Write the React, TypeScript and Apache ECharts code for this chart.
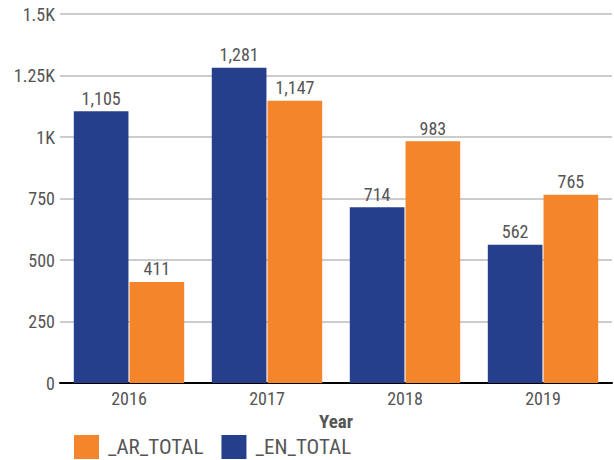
import React, { useEffect, useRef } from "react";
import * as echarts from "echarts";

const categories = ["2016", "2017", "2018", "2019"];
const enTotal = [1105, 1281, 714, 562];
const arTotal = [411, 1147, 983, 765];
const yTickLabels: Record<number, string> = { 0: "0", 250: "250", 500: "500", 750: "750", 1000: "1K", 1250: "1.25K", 1500: "1.5K" };

const FONT = "'Roboto Condensed', 'DejaVu Sans Condensed', 'Liberation Sans Narrow', Roboto, sans-serif";

export default function App() {
  const ref = useRef<HTMLDivElement>(null);
  useEffect(() => {
    const chart = echarts.init(ref.current!, null, { renderer: "svg" });
    chart.setOption({
      animation: false,
      textStyle: { fontFamily: FONT },
      grid: { left: 60, right: 2, top: 14, bottom: 77, containLabel: false },
      legend: {
        left: 74,
        bottom: 1,
        padding: 0,
        itemWidth: 25,
        itemHeight: 24,
        itemGap: 18,
        icon: "rect",
        data: ["_AR_TOTAL", "_EN_TOTAL"],
        textStyle: { fontFamily: FONT, fontSize: 21, color: "#555", padding: [0, 0, 0, 4] },
      },
      xAxis: {
        type: "category",
        data: categories,
        name: "Year",
        nameLocation: "middle",
        nameGap: 19,
        nameTextStyle: { fontFamily: FONT, fontSize: 19, fontWeight: "bold", color: "#555" },
        axisLine: { lineStyle: { color: "#000", width: 2 } },
        axisTick: { show: false },
        axisLabel: { fontFamily: FONT, fontSize: 18, color: "#555", margin: 6 },
      },
      yAxis: {
        type: "value",
        min: 0,
        max: 1500,
        interval: 250,
        axisLine: { show: false },
        axisTick: { show: false },
        splitLine: { lineStyle: { color: "#ccc", width: 2 } },
        axisLabel: {
          fontFamily: FONT,
          fontSize: 18,
          color: "#555",
          margin: 5,
          formatter: (v: number) => yTickLabels[v] ?? String(v),
        },
      },
      series: [
        {
          name: "_EN_TOTAL",
          type: "bar",
          data: enTotal,
          barCategoryGap: "20%",
          barGap: "2%",
          itemStyle: { color: "#263f8c" },
          label: {
            show: true,
            position: "top",
            distance: 4,
            fontFamily: FONT,
            fontSize: 18,
            color: "#555",
            formatter: (p: any) => p.value.toLocaleString("en-US"),
          },
        },
        {
          name: "_AR_TOTAL",
          type: "bar",
          data: arTotal,
          barCategoryGap: "20%",
          barGap: "2%",
          itemStyle: { color: "#f5852a" },
          label: {
            show: true,
            position: "top",
            distance: 4,
            fontFamily: FONT,
            fontSize: 18,
            color: "#555",
            formatter: (p: any) => p.value.toLocaleString("en-US"),
          },
        },
      ],
    });
    return () => chart.dispose();
  }, []);
  return <div ref={ref} style={{ width: 614, height: 460, position: "absolute", left: 0, top: 0 }} />;
}
